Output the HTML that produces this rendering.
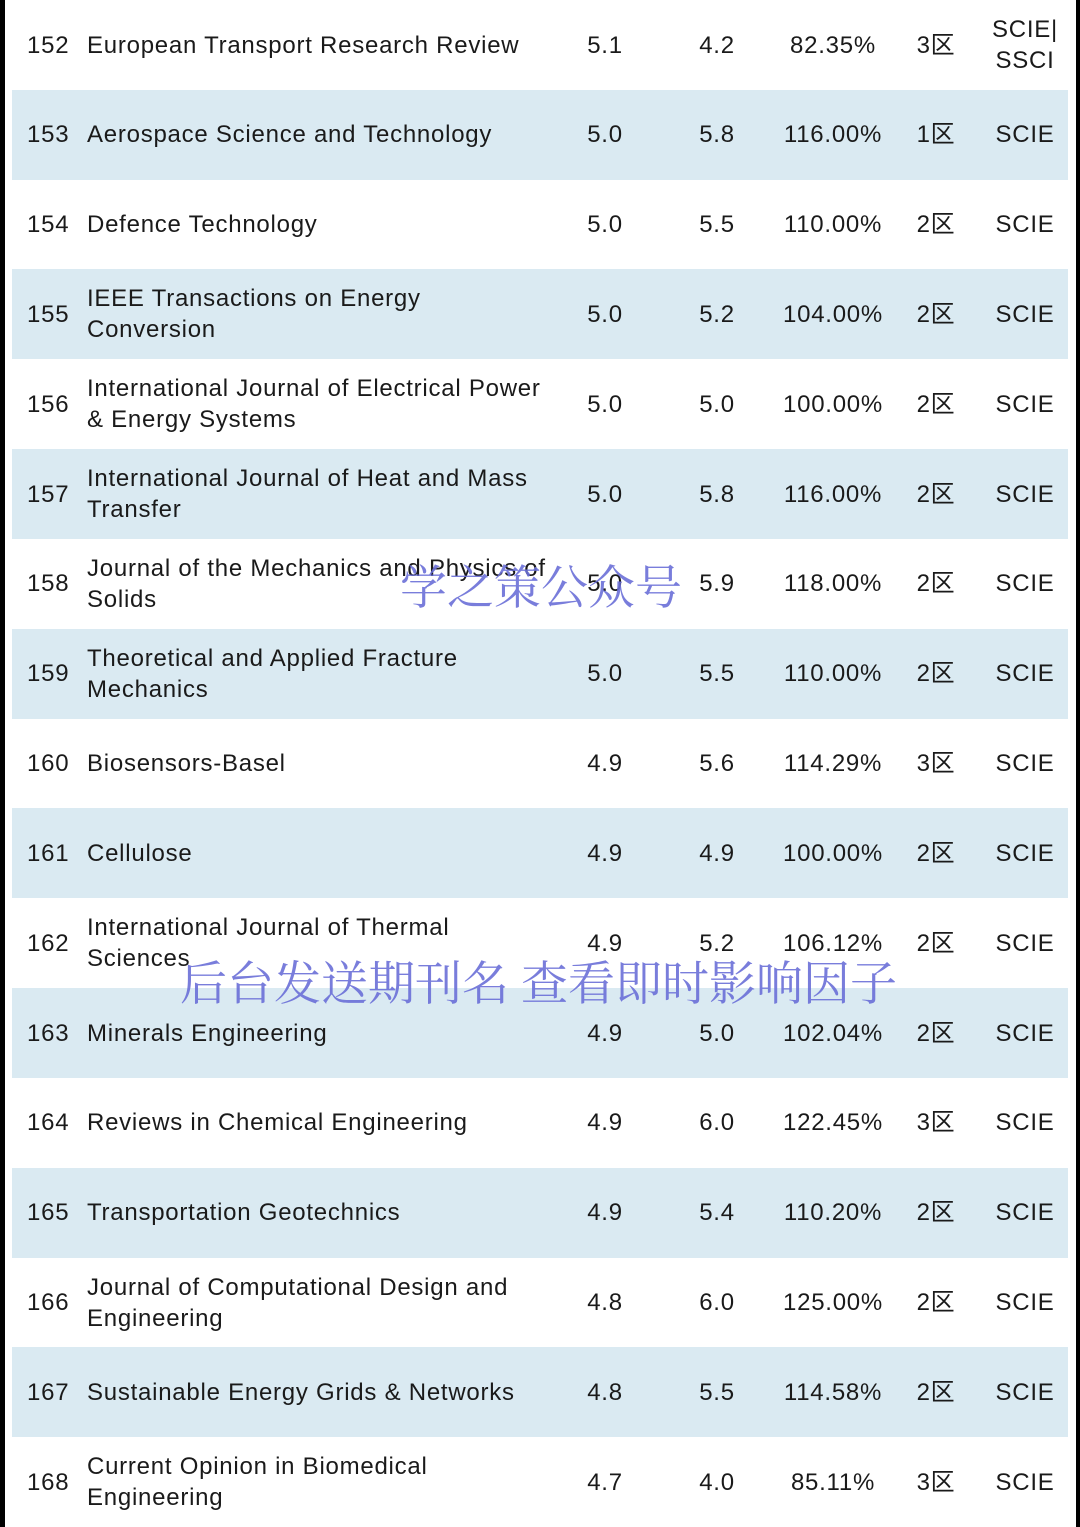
<!DOCTYPE html>
<html><head><meta charset="utf-8"><style>
body{margin:0;width:1080px;height:1527px;background:#fff;position:relative;overflow:hidden;font-family:"Liberation Sans","Noto Sans CJK SC",sans-serif;color:#1a1a1a}
.row{position:absolute;left:12px;width:1056px;height:90px}
.row.b{background:#daeaf2}
.c{position:absolute;top:0;height:90px;display:flex;align-items:center;font-size:24px;line-height:31px;letter-spacing:0.75px;white-space:nowrap}
.num{left:15px}
.name{left:75px;width:470px}
.v{justify-content:center;text-align:center}
.wm{position:absolute;font-family:"Noto Serif CJK SC","WenQuanYi Zen Hei",serif;color:#6b70d8;font-size:47px;white-space:nowrap;opacity:.9}
</style></head><body>
<div style="position:absolute;left:0;top:0;width:5px;height:1527px;background:#000"></div>
<div style="position:absolute;right:0;top:0;width:4px;height:1527px;background:#000"></div>
<div id="t"></div>
<div class="wm" style="left:400px;top:551px">学之策公众号</div>
<div class="wm" style="left:180px;top:947px">后台发送期刊名 查看即时影响因子</div>
<script>
const ranks=[152,153,154,155,156,157,158,159,160,161,162,163,164,165,166,167,168];
const names=["European Transport Research Review","Aerospace Science and Technology","Defence Technology","IEEE Transactions on Energy<br>Conversion","International Journal of Electrical Power<br>&amp; Energy Systems","International Journal of Heat and Mass<br>Transfer","Journal of the Mechanics and Physics of<br>Solids","Theoretical and Applied Fracture<br>Mechanics","Biosensors-Basel","Cellulose","International Journal of Thermal<br>Sciences","Minerals Engineering","Reviews in Chemical Engineering","Transportation Geotechnics","Journal of Computational Design and<br>Engineering","Sustainable Energy Grids &amp; Networks","Current Opinion in Biomedical<br>Engineering"];
const if1=["5.1","5.0","5.0","5.0","5.0","5.0","5.0","5.0","4.9","4.9","4.9","4.9","4.9","4.9","4.8","4.8","4.7"];
const if2=["4.2","5.8","5.5","5.2","5.0","5.8","5.9","5.5","5.6","4.9","5.2","5.0","6.0","5.4","6.0","5.5","4.0"];
const pct=["82.35%","116.00%","110.00%","104.00%","100.00%","116.00%","118.00%","110.00%","114.29%","100.00%","106.12%","102.04%","122.45%","110.20%","125.00%","114.58%","85.11%"];
const zone=["3区","1区","2区","2区","2区","2区","2区","2区","3区","2区","2区","2区","3区","2区","2区","2区","3区"];
const idx=["SCIE|<br>SSCI","SCIE","SCIE","SCIE","SCIE","SCIE","SCIE","SCIE","SCIE","SCIE","SCIE","SCIE","SCIE","SCIE","SCIE","SCIE","SCIE"];
const t=document.getElementById('t');
const rh=1527/17;
ranks.forEach((r,i)=>{
 const d=document.createElement('div');
 d.className='row'+(i%2?' b':'');
 d.style.top=(i*rh)+'px';
 
 
 d.innerHTML=
 '<div class="c num">'+r+'</div>'+
 '<div class="c name">'+names[i]+'</div>'+
 '<div class="c v" style="left:553px;width:80px">'+if1[i]+'</div>'+
 '<div class="c v" style="left:665px;width:80px">'+if2[i]+'</div>'+
 '<div class="c v" style="left:761px;width:120px">'+pct[i]+'</div>'+
 '<div class="c v" style="left:889px;width:70px">'+zone[i]+'</div>'+
 '<div class="c v" style="left:973px;width:80px">'+idx[i]+'</div>';
 t.appendChild(d);
});
</script>
</body></html>
